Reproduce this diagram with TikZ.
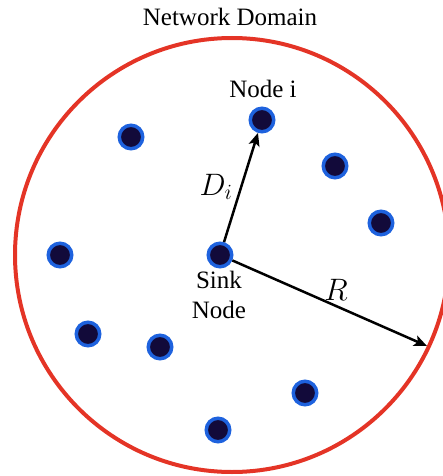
\RequirePackage{fix-cm}
\documentclass[tikz,border=0pt]{standalone}
\usepackage{fontspec}
\setmainfont{Liberation Serif}
\usetikzlibrary{positioning, arrows.meta}
\definecolor{domainred}{RGB}{228,52,38}
\definecolor{nodeblue}{RGB}{30,98,222}
\definecolor{nodenavy}{RGB}{18,10,58}
\tikzset{
	sensor/.style={circle, fill=nodenavy, draw=nodeblue, line width=3.5pt, minimum size=23.5pt, inner sep=0pt}
}
\tikzset{
	bigtext/.style={font=\fontsize{25}{30}\selectfont}
}
\tikzset{
	link/.style={line width=2.5pt, -{Stealth[length=13pt,width=11pt,inset=3pt]}}
}
\begin{document}
\begin{tikzpicture}[x=1pt, y=-1pt]
      \useasboundingbox (0,0) rectangle (442,476);
      \draw[domainred, line width=4pt] (232,255) circle[radius=217pt];
      \node[bigtext, anchor=base] (title) at (230,26) {Network Domain};
      \node[sensor] (sink) at (220,255) {};
      \node[sensor] (nodei) at (262,120) {};
      \foreach \x/\y [count=\k] in {131/137, 335/166, 381/223, 60/255, 88/334, 160/347, 305/393, 218/430}
        \node[sensor] (n\k) at (\x,\y) {};
      \node[bigtext, anchor=base] (nodeilabel) at (263,98) {Node i};
      \node[bigtext, align=center] (sinklabel) at (219,295) {Sink\\Node};
      \coordinate (redge) at (427,346);
      \draw[link] (sink) -- (nodei);
      \draw[link] (sink) -- (redge);
      \node[font=\fontsize{31}{36}\selectfont] (dlabel) at (216,187) {$D_i$};
      \node[font=\fontsize{31}{36}\selectfont] (rlabel) at (336,290) {$R$};
    \end{tikzpicture}
\end{document}
